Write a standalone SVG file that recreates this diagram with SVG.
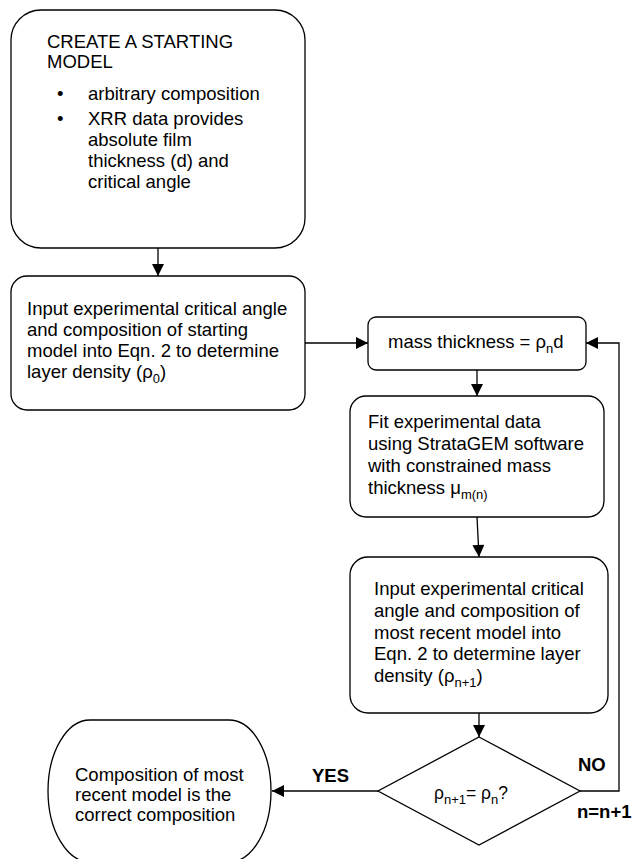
<svg xmlns="http://www.w3.org/2000/svg" width="639" height="859" viewBox="0 0 639 859">
<style>
.box{fill:#fff;stroke:#000;stroke-width:1.3}
.t{font-family:"Liberation Sans",Arial,Helvetica,sans-serif;font-size:18.5px;fill:#000}
.b{font-weight:bold}
.sub{font-size:13px}
.c{fill:none;stroke:#000;stroke-width:1.3;marker-end:url(#ah)}
</style>
<defs>
<marker id="ah" viewBox="0 0 10 10" markerWidth="13" markerHeight="12" refX="10" refY="5" orient="auto" markerUnits="userSpaceOnUse">
<path d="M0,0 L10,5 L0,10 z" fill="#000"/>
</marker>
</defs>
<rect width="639" height="859" fill="#fff"/>
<g id="connectors">
<path class="c" d="M158,248 V276"/>
<path class="c" d="M305,343 H368"/>
<path class="c" d="M477,370 V396"/>
<path class="c" d="M477,517 L479,557"/>
<path class="c" d="M479,713 V737"/>
<path class="c" d="M378,791 H272"/>
<path class="c" d="M580,791 H619 V343 H586"/>
<text class="t b" x="312" y="782">YES</text>
<text class="t b" x="578" y="771">NO</text>
<text class="t b" x="577" y="818">n=n+1</text>
</g>
<g id="start">
<rect class="box" x="11" y="10" width="294" height="238" rx="30" ry="30"/>
<text class="t" x="47" y="48">CREATE A STARTING</text>
<text class="t" x="47" y="68">MODEL</text>
<text class="t" x="57" y="100">•</text>
<text class="t" x="88" y="100">arbitrary composition</text>
<text class="t" x="57" y="125">•</text>
<text class="t" x="88" y="125">XRR data provides</text>
<text class="t" x="88" y="146">absolute film</text>
<text class="t" x="88" y="167">thickness (d) and</text>
<text class="t" x="88" y="188">critical angle</text>
</g>
<g id="input0">
<rect class="box" x="11" y="276" width="294" height="134" rx="16" ry="16"/>
<text class="t" x="27" y="315">Input experimental critical angle</text>
<text class="t" x="27" y="336">and composition of starting</text>
<text class="t" x="27" y="357">model into Eqn. 2 to determine</text>
<text class="t" x="27" y="378">layer density (ρ<tspan class="sub" dy="5">0</tspan><tspan dy="-5">)</tspan></text>
</g>
<g id="mass">
<rect class="box" x="368" y="317" width="218" height="53" rx="8" ry="8"/>
<text class="t" x="388" y="348">mass thickness = ρ<tspan class="sub" dy="5">n</tspan><tspan dy="-5">d</tspan></text>
</g>
<g id="fit">
<rect class="box" x="350" y="396" width="254" height="121" rx="16" ry="16"/>
<text class="t" x="368" y="428">Fit experimental data</text>
<text class="t" x="368" y="450">using StrataGEM software</text>
<text class="t" x="368" y="472">with constrained mass</text>
<text class="t" x="368" y="494">thickness μ<tspan class="sub" dy="5">m(n)</tspan></text>
</g>
<g id="inputn">
<rect class="box" x="350" y="557" width="258" height="156" rx="18" ry="18"/>
<text class="t" x="374" y="595">Input experimental critical</text>
<text class="t" x="374" y="617">angle and composition of</text>
<text class="t" x="374" y="639">most recent model into</text>
<text class="t" x="374" y="660">Eqn. 2 to determine layer</text>
<text class="t" x="374" y="682">density (ρ<tspan class="sub" dy="5">n+1</tspan><tspan dy="-5">)</tspan></text>
</g>
<g id="decision">
<path class="box" d="M479,737 L580,791 L479,845 L378,791 Z"/>
<text class="t" style="font-size:17.5px" x="434" y="799">ρ<tspan class="sub" dy="5">n+1</tspan><tspan dy="-5">= ρ</tspan><tspan class="sub" dy="5">n</tspan><tspan dy="-5">?</tspan></text>
</g>
<g id="result">
<rect class="box" x="48" y="720" width="223" height="142" rx="42" ry="71"/>
<text class="t" x="75" y="781">Composition of most</text>
<text class="t" x="75" y="801">recent model is the</text>
<text class="t" x="75" y="821">correct composition</text>
</g>
</svg>
